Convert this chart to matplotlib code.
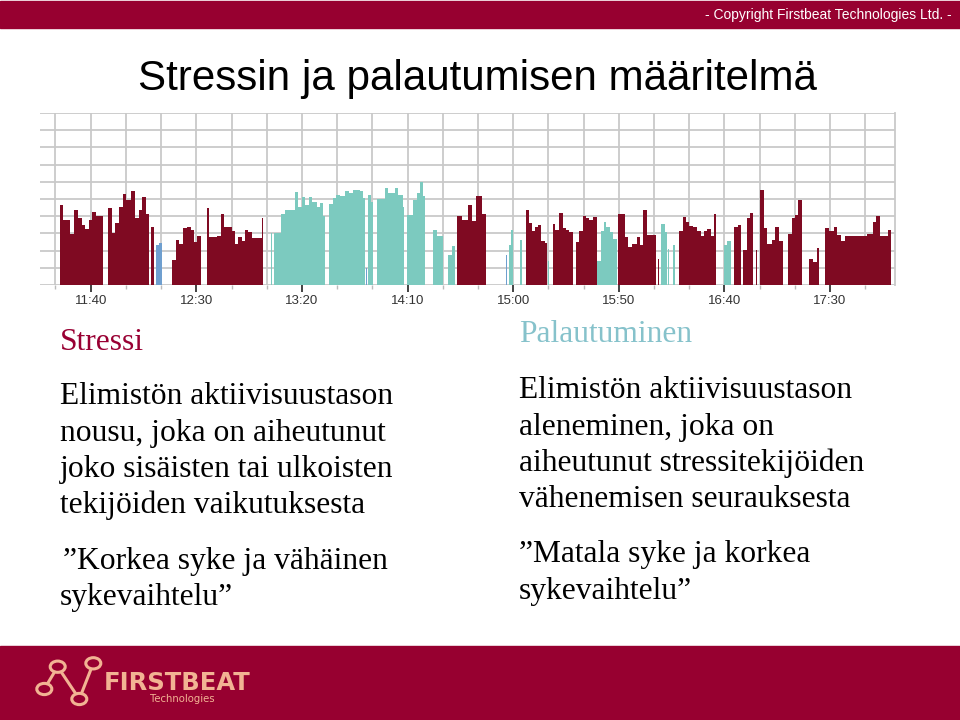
import matplotlib
matplotlib.use("Agg")
import matplotlib.pyplot as plt
from matplotlib.patches import Rectangle, Circle
from matplotlib.lines import Line2D

# ---------------- data ----------------
# time axis in minutes since midnight
tick_labels = ["11:40", "12:30", "13:20", "14:10", "15:00", "15:50", "16:40", "17:30"]
x_range = [676.0, 1080.8]
y_range = [0, 100]

# S = stress (maroon), R = recovery (teal), O = other (blue)
block_state = ["S", "S", "S", "O", "S", "S", "R", "R", "R", "O", "R", "R", "R", "R", "R",
               "S", "O", "R", "R", "R", "S", "R", "S", "S", "R", "S", "S", "R", "R", "R",
               "S", "R", "S", "S", "S", "S", "S", "S", "S"]
block_edges = [
    [685.5, 687.0, 690.2, 692.2, 694.0, 695.7, 697.2, 699.2, 700.8, 702.5, 705.7],
    [708.3, 709.9, 711.5, 713.4, 715.2, 716.7, 719.1, 721.0, 722.7, 724.4, 726.2, 727.7],
    [728.6, 730.0],
    [730.9, 732.2, 733.6],
    [738.6, 740.2, 741.8, 743.8, 745.5, 747.3, 748.9, 750.5, 752.1],
    [754.9, 756.2, 759.7, 761.6, 763.3, 764.7, 766.8, 768.3, 769.9, 771.5, 773.1, 774.6, 776.2, 781.0, 781.7],
    [785.4, 786.0],
    [786.9, 790.1, 792.0, 796.7, 798.3, 800.2, 801.5, 803.4, 804.9, 807.0, 808.6, 810.1, 810.9],
    [812.8, 814.9, 816.1, 818.0, 820.4, 822.4, 824.3, 827.5, 828.8, 829.9],
    [830.2, 830.7],
    [831.4, 832.7, 833.8],
    [835.7, 839.4, 840.9, 844.1, 845.6, 847.7, 848.3],
    [849.6, 852.8, 854.6, 855.9, 857.5, 858.3],
    [861.9, 863.8, 866.7],
    [869.3, 870.9, 872.5],
    [873.6, 875.7, 878.8, 880.4, 882.4, 885.5, 887.3],
    [896.6, 897.3],
    [897.9, 898.9],
    [899.0, 899.8],
    [903.3, 904.1],
    [906.0, 907.7, 909.0, 910.5, 911.8, 913.2, 914.9, 916.2],
    [916.7, 917.1],
    [918.7, 920.0, 921.8, 923.4, 925.0, 926.6, 928.5],
    [929.6, 931.3, 932.9, 934.5, 936.0, 937.8, 939.6],
    [939.7, 941.4, 942.8, 944.2, 945.7, 947.3, 949.0],
    [949.5, 953.0, 954.6, 956.2, 958.5, 960.0, 961.7, 963.3, 967.5],
    [968.4, 969.1],
    [970.0, 971.7, 972.7],
    [973.5, 974.0],
    [975.6, 976.5],
    [978.6, 980.3, 981.9, 983.4, 985.3, 986.9, 988.8, 990.4, 992.0, 993.6, 995.1, 996.1],
    [999.9, 1001.4, 1003.0],
    [1004.7, 1006.6, 1007.9],
    [1009.0, 1010.6, 1012.2, 1013.6],
    [1014.9, 1015.3],
    [1016.9, 1018.8, 1020.4, 1022.5, 1024.0, 1025.9, 1027.9],
    [1030.3, 1031.9, 1033.5, 1035.1, 1036.8],
    [1040.3, 1041.9, 1043.8, 1045.0],
    [1047.7, 1049.4, 1052.0, 1053.5, 1055.0, 1057.2, 1067.4, 1070.4, 1072.0, 1073.7, 1077.4, 1079.1],
]
block_values = [
    [46.3, 38, 29.8, 43.4, 39, 35, 32.8, 38, 42.2, 40.3],
    [44.6, 30, 36.2, 45.5, 52.7, 49.4, 54.6, 39.1, 43.6, 51.3, 41.1],
    [34],
    [23, 24.5],
    [14.5, 26.2, 23.6, 33, 33.9, 32, 25.2, 28.7],
    [44.6, 28.1, 28.7, 41.1, 33.9, 33.5, 31.4, 24, 28.1, 25.6, 32, 31, 27.3, 39.1],
    [30],
    [30, 41.5, 43.7, 53.8, 45.6, 51.4, 46.6, 50.9, 48.5, 45.6, 47.5, 40],
    [47.3, 50.8, 52.1, 51.5, 54.8, 53.5, 55.4, 54.8, 50.6],
    [10],
    [52.5, 48],
    [50.2, 56.4, 53.5, 56.4, 52.5, 45.2],
    [40.9, 49.6, 53.5, 59.8, 51.5],
    [32.2, 28.7],
    [17.2, 22.5],
    [40.3, 38, 46.3, 37, 51.5, 41],
    [17.3],
    [23.4],
    [32],
    [26],
    [43.5, 36, 31.3, 33.8, 35.1, 25.8, 24.6],
    [14],
    [35.2, 32, 42, 33.3, 31.8, 31.1],
    [25, 31.3, 40.3, 39, 37.9, 39.3],
    [14, 31.5, 36.4, 34, 30.6, 27],
    [41.1, 28.1, 22.3, 23.6, 28.1, 23.3, 43.6, 29],
    [15.4],
    [35.2, 31],
    [21],
    [23.3],
    [31.2, 39.3, 36.4, 34.1, 33.5, 31.2, 28.3, 31.6, 32.8, 28.3, 41.3],
    [23, 25.8],
    [33.7, 35],
    [20.4, 39, 42.1],
    [20.4],
    [55.5, 33, 23.6, 25.9, 33.8, 25.7],
    [29.8, 39, 40.6, 49.5],
    [15.1, 13.5, 21.6],
    [32.9, 31.3, 33.7, 28.8, 25.7, 28.5, 29.6, 36.9, 40, 28.5, 31.9],
]

state_colors = {"S": "#7f0a22", "R": "#7ccabf", "O": "#6f9fcf"}

title = "Stressin ja palautumisen määritelmä"
copyright_text = "- Copyright Firstbeat Technologies Ltd. -"
stress_head = "Stressi"
stress_lines = ["Elimistön aktiivisuustason", "nousu, joka on aiheutunut",
                "joko sisäisten tai ulkoisten", "tekijöiden vaikutuksesta"]
stress_quote = ["\u201dKorkea syke ja vähäinen", "sykevaihtelu\u201d"]
recov_head = "Palautuminen"
recov_lines = ["Elimistön aktiivisuustason", "aleneminen, joka on",
               "aiheutunut stressitekijöiden", "vähenemisen seurauksesta"]
recov_quote = ["\u201dMatala syke ja korkea", "sykevaihtelu\u201d"]

# ---------------- figure ----------------
W, H = 960, 720
fig = plt.figure(figsize=(9.6, 7.2), dpi=100)
BAND = "#970030"


def fx(x):
    return x / W


def fy(y):
    return 1 - y / H


# top band
fig.patches.append(Rectangle((0, fy(28)), 1, 27 / H, transform=fig.transFigure,
                             color=BAND, zorder=0))
fig.text(fx(952), fy(15), copyright_text, color="white", fontsize=10,
         family="Liberation Sans", ha="right", va="center")

# bottom band
fig.patches.append(Rectangle((0, 0), 1, (H - 646) / H, transform=fig.transFigure,
                             color=BAND, zorder=0))
logo_c = "#f2b393"
pts = [(44.3, 689), (57.7, 666.7), (79.3, 699), (93.3, 663.3)]
for (x1, y1), (x2, y2) in zip(pts[:-1], pts[1:]):
    fig.lines.append(Line2D([fx(x1), fx(x2)], [fy(y1), fy(y2)], transform=fig.transFigure,
                            color=logo_c, lw=2.2, zorder=2))
for (x, y) in pts:
    fig.patches.append(Circle((fx(x), fy(y)), 7.5 / W, transform=fig.transFigure,
                              facecolor=BAND, edgecolor=logo_c, lw=2.2, zorder=3))
fig.text(fx(104), fy(683), "FIRSTBEAT", color=logo_c, fontsize=17.5, fontweight="bold",
         family="DejaVu Sans", ha="left", va="center")
fig.text(fx(150), fy(698.5), "Technologies", color=logo_c, fontsize=7.3,
         family="DejaVu Sans", ha="left", va="center")

# title
fig.text(fx(138), fy(90), title, fontsize=30.3, family="Liberation Sans",
         color="black", ha="left", va="baseline")

# chart
ax = fig.add_axes([fx(40), fy(285), (895 - 40) / W, (285 - 113) / H])
for state, edges, vals in zip(block_state, block_edges, block_values):
    lefts = edges[:-1]
    widths = [b - a for a, b in zip(edges[:-1], edges[1:])]
    ax.bar(lefts, vals, width=widths, align="edge", color=state_colors[state],
           linewidth=0, zorder=3)

ax.set_xlim(*x_range)
ax.set_ylim(*y_range)
tick_pos = [int(s.split(":")[0]) * 60 + int(s.split(":")[1]) for s in tick_labels]
grid_x = [tick_pos[0] - 50 / 3 + k * 50 / 3 for k in range(0, 24)]
for gx in grid_x:
    ax.axvline(gx, color="#c9c9c9", lw=1.3, zorder=1)
for gy in range(10, 101, 10):
    ax.axhline(gy, color="#c9c9c9", lw=1.3, zorder=1)
ax.axhline(0, color="#c9c9c9", lw=1.3, zorder=1)
ax.set_xticks(tick_pos)
ax.set_xticklabels(tick_labels)
ax.set_xticks([g for g in grid_x if all(abs(g - t) > 1 for t in tick_pos)], minor=True)
ax.tick_params(axis="x", which="major", length=5, width=1.2, color="#222222",
               labelsize=9.5, labelcolor="#333333", pad=2)
ax.tick_params(axis="x", which="minor", length=3, width=1, color="#bbbbbb")
for lab in ax.get_xticklabels():
    lab.set_family("Liberation Sans")
ax.set_yticks([])
for side in ["left", "top", "bottom"]:
    ax.spines[side].set_visible(False)
ax.spines["right"].set_color("#c9c9c9")
ax.spines["right"].set_linewidth(1.3)

# text columns
SERIF = "Liberation Serif"
STRESS_C = "#990033"
RECOV_C = "#86c2cb"
fs = 22.7
fig.text(fx(60), fy(350), stress_head, fontsize=fs, family=SERIF, color=STRESS_C,
         ha="left", va="baseline")
for i, line in enumerate(stress_lines):
    fig.text(fx(60), fy(404 + i * 36.5), line, fontsize=fs, family=SERIF, color="black",
             ha="left", va="baseline")
for i, line in enumerate(stress_quote):
    fig.text(fx(63 if i == 0 else 60), fy(568.5 + i * 37), line, fontsize=fs, family=SERIF,
             color="black", ha="left", va="baseline")

fig.text(fx(519), fy(342), recov_head, fontsize=fs, family=SERIF, color=RECOV_C,
         ha="left", va="baseline")
for i, line in enumerate(recov_lines):
    fig.text(fx(519), fy(398.5 + i * 36.2), line, fontsize=fs, family=SERIF, color="black",
             ha="left", va="baseline")
for i, line in enumerate(recov_quote):
    fig.text(fx(519), fy(562 + i * 37), line, fontsize=fs, family=SERIF,
             color="black", ha="left", va="baseline")

fig.savefig("out.png", dpi=100)
